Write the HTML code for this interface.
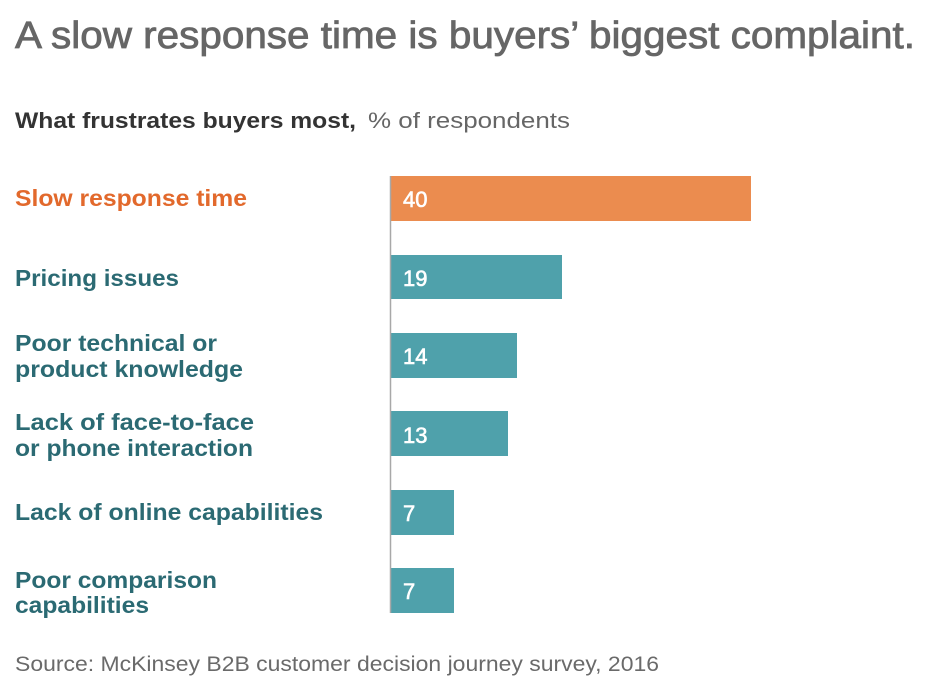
<!DOCTYPE html>
<html>
<head>
<meta charset="utf-8">
<style>
html,body{margin:0;padding:0;background:#fff;}
svg{display:block;}
text{font-family:"Liberation Sans",Arial,sans-serif;}
</style>
</head>
<body>
<svg width="934" height="694" viewBox="0 0 934 694" xmlns="http://www.w3.org/2000/svg">
  <rect width="934" height="694" fill="#fff"/>
  <!-- Title -->
  <text x="15" y="48" font-size="38" fill="#666666" stroke="#666666" stroke-width="0.8" textLength="900" lengthAdjust="spacingAndGlyphs">A slow response time is buyers’ biggest complaint.</text>
  <!-- Subtitle -->
  <text x="15" y="128" font-size="22" font-weight="bold" fill="#333333" textLength="341" lengthAdjust="spacingAndGlyphs">What frustrates buyers most,</text>
  <text x="368" y="128" font-size="22" fill="#666666" textLength="202" lengthAdjust="spacingAndGlyphs">% of respondents</text>

  <!-- Category labels -->
  <g font-size="23" font-weight="bold">
    <text x="15" y="206" fill="#E2692C" textLength="232" lengthAdjust="spacingAndGlyphs">Slow response time</text>
    <text x="15" y="286" fill="#2B6A73" textLength="164" lengthAdjust="spacingAndGlyphs">Pricing issues</text>
    <text x="15" y="351" fill="#2B6A73" textLength="202" lengthAdjust="spacingAndGlyphs">Poor technical or</text>
    <text x="15" y="377" fill="#2B6A73" textLength="228" lengthAdjust="spacingAndGlyphs">product knowledge</text>
    <text x="15" y="430" fill="#2B6A73" textLength="239" lengthAdjust="spacingAndGlyphs">Lack of face-to-face</text>
    <text x="15" y="456" fill="#2B6A73" textLength="238" lengthAdjust="spacingAndGlyphs">or phone interaction</text>
    <text x="15" y="520" fill="#2B6A73" textLength="308" lengthAdjust="spacingAndGlyphs">Lack of online capabilities</text>
    <text x="15" y="588" fill="#2B6A73" textLength="202" lengthAdjust="spacingAndGlyphs">Poor comparison</text>
    <text x="15" y="613" fill="#2B6A73" textLength="134" lengthAdjust="spacingAndGlyphs">capabilities</text>
  </g>

  <!-- Bars -->
  <rect x="391" y="176" width="360" height="45" fill="#EB8C4F"/>
  <rect x="391" y="255" width="171" height="44" fill="#4FA1AB"/>
  <rect x="391" y="333" width="126" height="45" fill="#4FA1AB"/>
  <rect x="391" y="411" width="117" height="45" fill="#4FA1AB"/>
  <rect x="391" y="490" width="63" height="45" fill="#4FA1AB"/>
  <rect x="391" y="568" width="63" height="45" fill="#4FA1AB"/>

  <!-- Axis -->
  <line x1="390.5" y1="176" x2="390.5" y2="613" stroke="#A8A8A8" stroke-width="1.5"/>

  <!-- Values -->
  <g font-size="22" fill="#ffffff" stroke="#ffffff" stroke-width="0.6">
    <text x="403" y="207">40</text>
    <text x="403" y="286">19</text>
    <text x="403" y="364">14</text>
    <text x="403" y="443">13</text>
    <text x="403" y="521">7</text>
    <text x="403" y="599">7</text>
  </g>

  <!-- Source -->
  <text x="15" y="671" font-size="21" fill="#6a6a6a" textLength="644" lengthAdjust="spacingAndGlyphs">Source: McKinsey B2B customer decision journey survey, 2016</text>
</svg>
</body>
</html>
